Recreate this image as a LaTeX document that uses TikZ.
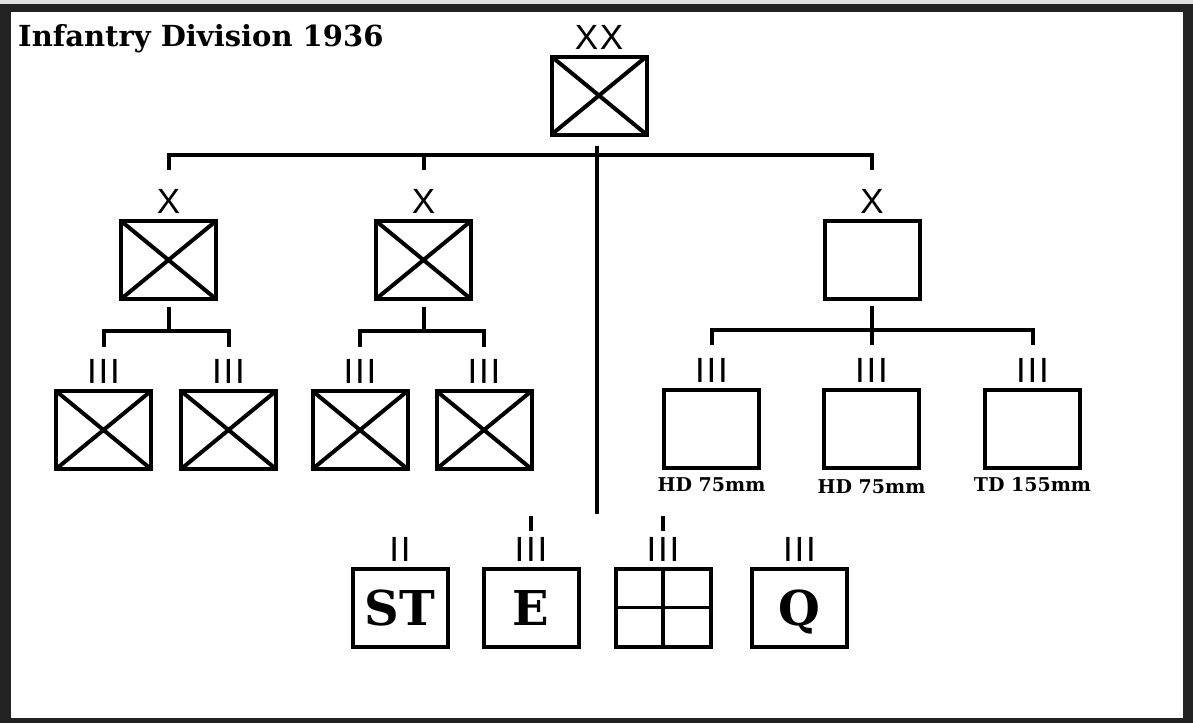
\documentclass[tikz,border=0pt]{standalone}
\usepackage{fontspec}
\setmainfont{DejaVu Serif}
\newfontfamily\labfont[LetterSpace=5]{Liberation Sans}
\usetikzlibrary{positioning}
\definecolor{framegray}{HTML}{222222}

\begin{document}
\begin{tikzpicture}[x=1pt, y=-1pt,
    unit/.style={rectangle, draw, line width=4pt, minimum width=95pt, minimum height=78pt, inner sep=0pt, fill=white},
    inf/.style={unit, path picture={\draw[line width=4pt] (path picture bounding box.north west) -- (path picture bounding box.south east) (path picture bounding box.south west) -- (path picture bounding box.north east);}},
    signal/.style={unit, path picture={\draw[line width=3.5pt] (path picture bounding box.north) -- (path picture bounding box.south) (path picture bounding box.west) -- (path picture bounding box.east);}},
    echelon/.style={label={[font=\labfont\fontsize{35}{35}\selectfont, inner sep=0pt, label distance=5pt]above:#1}},
    caption/.style={font=\bfseries\fontsize{19}{19}\selectfont, inner sep=0pt},
    lettermark/.style={font=\bfseries\fontsize{48}{48}\selectfont, text depth=0pt},
    conn/.style={line width=4pt}]
    \useasboundingbox (0,0) rectangle (1193,723);
    % frame
    \fill[gray!25] (0,0) rectangle (1193,4);
    \fill[framegray] (0,4) rectangle (1193,723);
    \fill[white] (11,12) rectangle (1183,718);

    \node[anchor=base west, font=\bfseries\fontsize{29}{29}\selectfont, inner sep=0pt] (title) at (18,46) {Infantry Division 1936};

    % division and brigades
    \node[inf, echelon=XX] (div) at (599,95.5) {};
    \node[inf, echelon=X] (brigL) at (168.5,260) {};
    \node[inf, echelon=X] (brigM) at (423.5,260) {};
    \node[unit, echelon=X] (brigA) at (872,260) {};

    % infantry regiments
    \node[inf, echelon=III] (regA) at (103.5,430) {};
    \node[inf, echelon=III] (regB) at (228.5,430) {};
    \node[inf, echelon=III] (regC) at (360,430) {};
    \node[inf, echelon=III] (regD) at (484,430) {};

    % artillery regiments
    \node[unit, echelon=III, label={[caption, label distance=7pt]below:HD 75mm}] (artA) at (711.5,429) {};
    \node[unit, echelon=III, label={[caption, label distance=9pt]below:HD 75mm}] (artB) at (871.5,429) {};
    \node[unit, echelon=III, label={[caption, label distance=7pt]below:TD 155mm}] (artC) at (1032.5,429) {};

    % divisional troops
    \node[unit, lettermark, echelon=II] (sup) at (400,607.5) {ST};
    \node[unit, lettermark, echelon=III, right=32pt of sup] (eng) {E};
    \node[signal, echelon=III, right=33pt of eng] (sig) {};
    \node[unit, lettermark, echelon=III, right=37.5pt of sig] (qm) {Q};

    % connectors
    \coordinate (tickL) at ([yshift=49pt]brigL.north);
    \coordinate (tickM) at ([yshift=49pt]brigM.north);
    \coordinate (tickA) at ([yshift=49pt]brigA.north);
    \draw[conn] (tickL) -- ++(0,-15) -| (tickA);
    \draw[conn] (tickM) -- ++(0,-15);
    \coordinate (trunkTop) at ([xshift=-2pt, yshift=-9pt]div.south);
    \draw[conn] (trunkTop) -- ++(0,368) coordinate (trunkEnd);

    \coordinate (stemL) at ([yshift=-6pt]brigL.south);
    \coordinate (regTickA) at ([yshift=42pt]regA.north);
    \coordinate (regTickB) at ([yshift=42pt]regB.north);
    \draw[conn] (stemL) -- ++(0,24);
    \draw[conn] (regTickA) -- ++(0,-16) -| (regTickB);

    \coordinate (stemM) at ([yshift=-6pt]brigM.south);
    \coordinate (regTickC) at ([yshift=42pt]regC.north);
    \coordinate (regTickD) at ([yshift=42pt]regD.north);
    \draw[conn] (stemM) -- ++(0,24);
    \draw[conn] (regTickC) -- ++(0,-16) -| (regTickD);

    \coordinate (stemA) at ([yshift=-5pt]brigA.south);
    \coordinate (artTickA) at ([yshift=43pt]artA.north);
    \coordinate (artTickB) at ([yshift=43pt]artB.north);
    \coordinate (artTickC) at ([yshift=43pt]artC.north);
    \draw[conn] (stemA) -- (stemA |- artTickB);
    \draw[conn] (artTickA) -- ++(0,-15) -| (artTickC);

    \coordinate (stubE) at ([yshift=36pt]eng.north);
    \coordinate (stubS) at ([yshift=36pt]sig.north);
    \draw[conn] (stubE) -- ++(0,-15);
    \draw[conn] (stubS) -- ++(0,-15);
\end{tikzpicture}
\end{document}
